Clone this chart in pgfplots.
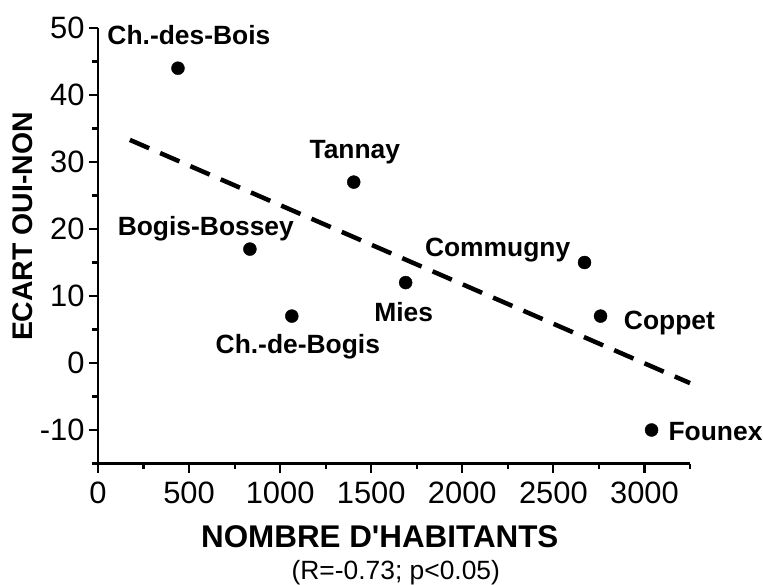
\documentclass[border=0pt]{standalone}
\usepackage{pgfplots}
\pgfplotsset{compat=1.18}
\usepackage{fontspec}
\setmainfont{Liberation Sans}
\newfontfamily\lsnomap{Liberation Sans}
\begin{document}
\begin{tikzpicture}
\useasboundingbox (-98bp,-121.5bp) rectangle (665bp,463.5bp);
\begin{axis}[
  at={(0,0)}, anchor=south west,
  scale only axis, width=592bp, height=435.5bp,
  xmin=0, xmax=3250, ymin=-15, ymax=50,
  axis x line*=bottom, axis y line*=left,
  axis line style={line width=2.5bp, -},
  xtick={0,500,...,3000}, minor xtick={250,750,...,3250},
  ytick={-10,0,...,50}, minor ytick={-15,-5,...,45},
  tick align=outside, tick style={line width=2.2bp, black},
  major tick length=9bp, minor tick length=5.5bp,
  /pgf/number format/assume math mode=true,
  /pgf/number format/set thousands separator={},
  ticklabel style={font=\fontsize{31}{31}\selectfont},
  xticklabel style={yshift=-6bp},
  yticklabel style={xshift=-1bp},
  clip=false,
]
\addplot[only marks, mark=*, mark size=6.5bp, black] coordinates {
(439,44) (1404,27) (834,17) (1064,7) (1689,12) (2671,15) (2759,7) (3039,-10)
};
\addplot[black, line width=4.5bp, dash pattern=on 21bp off 12bp] coordinates {
(175,33.3) (3250,-3.0)
};
\begin{scope}[every node/.style={font=\bfseries\fontsize{26.5}{26.5}\selectfont}]
\node at (axis cs:499,48.96) {Ch.-des-Bois};
\node at (axis cs:1410,31.4) {Tannay};
\node at (axis cs:592,20.1) {Bogis-Bossey};
\node at (axis cs:1097,2.39) {Ch.-de-Bogis};
\node at (axis cs:1678,7.6) {Mies};
\node at (axis cs:2194,16.9) {Commugny};
\node at (axis cs:3137,6.04) {Coppet};
\node at (axis cs:3390,-10.3) {Founex};
\end{scope}
\node[font=\lsnomap\bfseries\fontsize{31.5}{31.5}\selectfont] at (rel axis cs:0.476,-0.169) {NOMBRE D'HABITANTS};
\node[font=\fontsize{26.5}{26.5}\selectfont] at (rel axis cs:0.503,-0.251) {(R=-0.73; p<0.05)};
\node[font=\bfseries\fontsize{28.5}{28.5}\selectfont, rotate=90] at (rel axis cs:-0.127,0.544) {ECART OUI-NON};
\end{axis}
\end{tikzpicture}
\end{document}
